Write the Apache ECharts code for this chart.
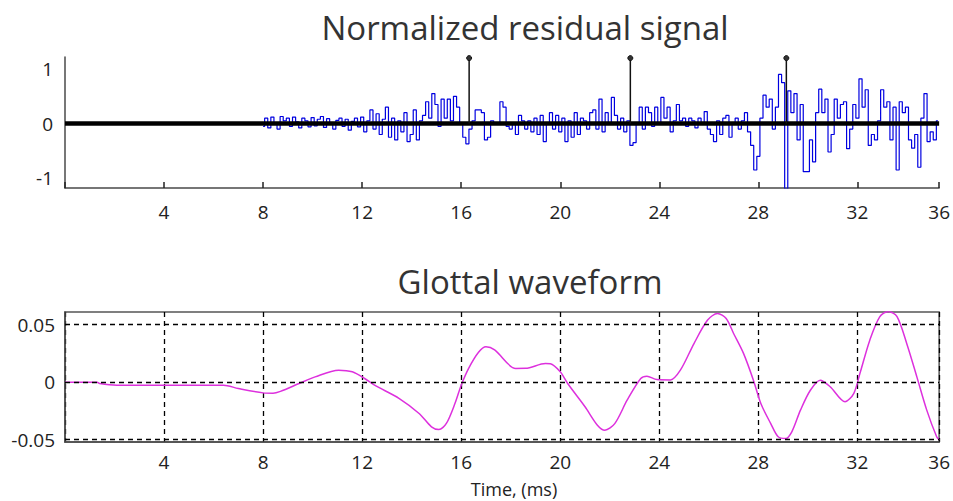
<!DOCTYPE html>
<html><head><meta charset="utf-8">
<script src="https://cdn.jsdelivr.net/npm/echarts@6/dist/echarts.min.js"></script>
<style>html,body{margin:0;padding:0;background:#fff}#c{width:953px;height:501px}</style>
</head><body><div id="c"></div>
<script>
// ---------- data ----------
const titleTop = 'Normalized residual signal';
const titleBottom = 'Glottal waveform';
const xAxisName = 'Time, (ms)';
const xTickLabels = ['4','8','12','16','20','24','28','32','36'];
const yTopLabels = [-1, 0, 1];
const yBottomLabels = [-0.05, 0, 0.05];
const X_MAX = 35.3;

// residual signal: samples every 0.125 ms starting at 8 ms
const residualStart = 8.0;
const residualStep = 0.125;
const residual = [
 -0.05,0.1,-0.08,0.12,0.02,-0.1,0.13,0.05,
 0.1,-0.05,0.12,0.03,-0.08,0.1,0.05,-0.06,
 0.11,-0.04,0.08,0.13,-0.07,0.09,0.02,-0.1,
 0.06,0.1,-0.05,0.08,-0.12,0.04,0.1,-0.06,
 0.12,-0.15,0.05,0.25,-0.1,0.18,-0.2,0.08,
 0.3,-0.25,0.1,-0.3,0.05,-0.15,0.2,-0.33,
 -0.2,0.25,-0.3,0.05,0.15,0.4,0.1,0.55,
 0.35,-0.05,0.45,0.1,0.45,0.05,0.5,0.3,
 0.0,-0.25,-0.37,-0.1,0.05,0.25,0.25,0.2,
 -0.3,-0.25,0.05,0.0,0.0,0.4,0.3,-0.05,
 -0.1,0.0,-0.2,0.15,0.05,-0.1,0.05,-0.15,
 0.1,-0.2,0.15,-0.33,0.0,0.2,-0.1,0.15,
 -0.15,0.1,-0.33,0.05,-0.25,0.2,-0.2,0.1,
 0.05,-0.1,0.2,0.25,-0.1,0.45,-0.15,0.2,
 0.0,0.48,0.15,-0.1,0.1,-0.15,0.05,-0.4,
 -0.35,0.0,0.3,-0.1,0.3,0.2,-0.05,0.3,
 0.0,0.48,0.1,0.3,-0.15,0.05,0.35,0.05,
 0.1,-0.05,0.1,0.05,-0.08,0.1,0.0,0.22,
 -0.1,-0.2,-0.33,0.05,-0.2,0.1,0.15,-0.25,
 0.0,0.1,-0.1,0.05,0.2,-0.15,-0.4,-0.85,
 -0.6,0.1,0.52,0.3,0.45,-0.1,0.3,0.9,
 0.75,-1.2,0.6,0.2,0.55,-0.3,0.35,-0.88,
 -0.88,-0.3,-0.7,0.2,0.63,0.2,0.45,-0.52,
 -0.2,0.45,0.1,0.35,0.4,-0.46,-0.1,0.35,
 0.1,0.82,0.3,0.62,-0.4,-0.2,-0.3,0.05,
 0.62,0.3,0.4,-0.3,0.3,-0.85,0.4,0.2,
 0.3,-0.3,-0.45,-0.2,-0.8,0.1,0.55,-0.33,
 -0.15,-0.3,0.05
];

// pitch-mark stems
const stemTimes = [16.32, 22.83, 29.13];
const stemValues = [1.2, 1.2, 1.2];

// glottal waveform
const glottalTimes = [0,1.3,1.4,2.1,6.4,7.0,8.0,8.4,8.7,9.45,
 10.1,11.05,11.6,12.1,12.5,13.5,14.3,14.8,15.1,15.4,
 15.75,16.0,16.3,16.7,17.0,17.35,18.2,18.6,19.4,19.6,
 20.0,20.3,21.0,21.5,21.8,22.2,22.7,23.25,23.5,23.9,
 24.45,24.85,25.4,25.95,26.35,26.7,27.0,27.4,27.8,28.1,
 28.5,28.8,29.1,29.35,29.7,30.1,30.5,30.9,31.5,31.85,
 32.1,32.5,32.9,33.25,33.6,34.0,34.4,34.8,35.2,35.3];
const glottalValues = [0,0,-0.0012,-0.0026,-0.0026,-0.0055,-0.0093,-0.0096,-0.008,-0.0012,
 0.0046,0.0104,0.009,0.0032,-0.0026,-0.0142,-0.0272,-0.0388,-0.0412,-0.0359,
 -0.0184,-0.0026,0.012,0.026,0.0307,0.028,0.0119,0.012,0.0162,0.016,
 0.009,-0.0012,-0.0214,-0.0374,-0.0417,-0.036,-0.0157,0.0032,0.0052,0.0023,
 0.002,0.0104,0.0336,0.054,0.0597,0.0554,0.0423,0.025,0.0017,-0.0186,
 -0.036,-0.0475,-0.049,-0.0432,-0.0243,-0.007,0.0017,-0.004,-0.017,-0.0099,
 0.0075,0.0365,0.0568,0.0615,0.057,0.033,0.0046,-0.0243,-0.0475,-0.05];

// ---------- chart ----------
const FONT = '"Open Sans", sans-serif';
const residualData = residual.map((v, i) => [residualStart + i * residualStep, v]);
const glottalData = glottalTimes.map((t, i) => [t, glottalValues[i]]);
const xLabelFmt = (v, i) => (i === 0 ? '' : xTickLabels[i - 1]);
const axisLineStyle = { color: '#4a4a4a', width: 1.5 };
const labelStyle = { fontSize: 19, color: '#222', fontFamily: FONT };

const chart = echarts.init(document.getElementById('c'), null, { renderer: 'svg' });
chart.setOption({
  animation: false,
  backgroundColor: '#fff',
  grid: [
    { left: 65, right: 10, top: 57, bottom: 313 },
    { left: 65, right: 11, top: 312, bottom: 59, show: true, borderColor: '#555', borderWidth: 1.5 }
  ],
  xAxis: [
    { gridIndex: 0, type: 'value', min: 0, max: X_MAX, interval: 4,
      axisLine: { show: true, onZero: false, lineStyle: axisLineStyle },
      axisTick: { show: true, inside: true, length: 6, lineStyle: { color: '#222', width: 1.5 } },
      splitLine: { show: false },
      axisLabel: Object.assign({ margin: 14, formatter: xLabelFmt, showMinLabel: true, showMaxLabel: true }, labelStyle) },
    { gridIndex: 1, type: 'value', min: 0, max: X_MAX, interval: 4,
      axisLine: { show: true, onZero: false, lineStyle: axisLineStyle },
      axisTick: { show: false },
      splitLine: { show: true, lineStyle: { type: [5, 4], color: '#000', width: 1.3 } },
      axisLabel: Object.assign({ margin: 10, formatter: xLabelFmt, showMinLabel: true, showMaxLabel: true }, labelStyle) }
  ],
  yAxis: [
    { gridIndex: 0, type: 'value', min: -1.18, max: 1.22,
      axisLine: { show: true, onZero: false, lineStyle: axisLineStyle },
      axisTick: { show: false }, splitLine: { show: false },
      axisLabel: Object.assign({ margin: 12, customValues: yTopLabels }, labelStyle) },
    { gridIndex: 1, type: 'value', min: -0.052, max: 0.061,
      axisLine: { show: true, onZero: false, lineStyle: axisLineStyle },
      axisTick: { show: false }, splitLine: { show: false },
      axisLabel: Object.assign({ margin: 10, customValues: yBottomLabels }, labelStyle) }
  ],
  series: [
    { type: 'line', xAxisIndex: 0, yAxisIndex: 0, data: residualData, step: 'middle',
      symbol: 'none', lineStyle: { color: '#0000e0', width: 1.2 }, z: 2 },
    { type: 'line', xAxisIndex: 0, yAxisIndex: 0, data: [[0, 0], [X_MAX, 0]],
      symbol: 'none', lineStyle: { color: '#000', width: 4.5 }, z: 3 },
    { type: 'custom', xAxisIndex: 0, yAxisIndex: 0, z: 4,
      data: stemTimes.map((t, i) => [t, stemValues[i]]),
      renderItem: (params, api) => {
        const p0 = api.coord([api.value(0), 0]);
        const p1 = api.coord([api.value(0), api.value(1)]);
        return { type: 'group', children: [
          { type: 'line', shape: { x1: p0[0], y1: p0[1], x2: p1[0], y2: p1[1] }, style: { stroke: '#111', lineWidth: 1.5 } },
          { type: 'circle', shape: { cx: p1[0], cy: p1[1], r: 2.5 }, style: { fill: '#333', stroke: '#111', lineWidth: 1 } }
        ] };
      } },
    { type: 'line', xAxisIndex: 1, yAxisIndex: 1, data: glottalData, smooth: 0.3,
      symbol: 'none', lineStyle: { color: '#dd30dd', width: 1.5 }, z: 3,
      markLine: { silent: true, symbol: 'none', label: { show: false },
        lineStyle: { type: [5, 4], color: '#000', width: 1.3 },
        data: yBottomLabels.map(v => ({ yAxis: v })) } }
  ],
  graphic: [
    { type: 'text', x: 525, y: 27, style: { text: titleTop, font: '33px ' + FONT, fill: '#333', textAlign: 'center', textVerticalAlign: 'middle' } },
    { type: 'text', x: 530, y: 281, style: { text: titleBottom, font: '33px ' + FONT, fill: '#333', textAlign: 'center', textVerticalAlign: 'middle' } },
    { type: 'text', x: 514, y: 489, style: { text: xAxisName, font: '18px ' + FONT, fill: '#222', textAlign: 'center', textVerticalAlign: 'middle' } }
  ]
});
</script></body></html>
